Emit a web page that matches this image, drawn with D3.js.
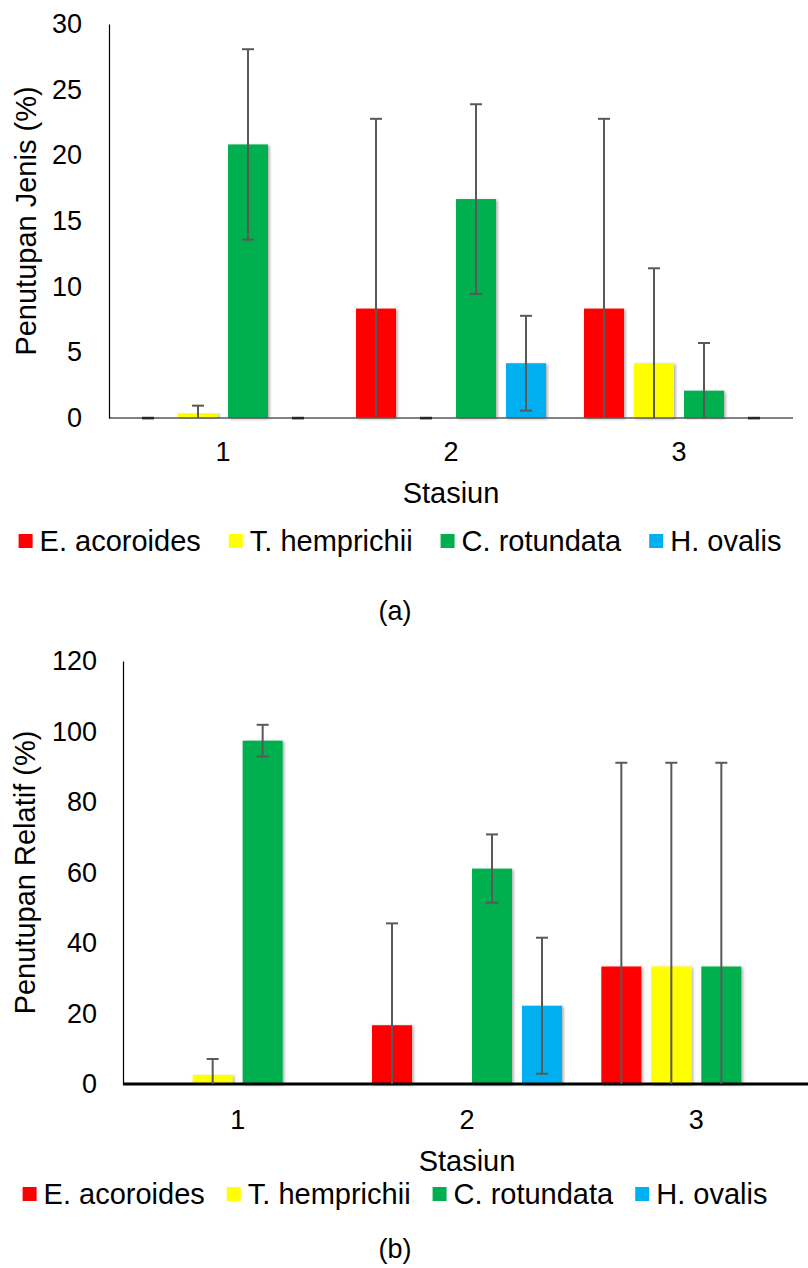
<!DOCTYPE html>
<html>
<head>
<meta charset="utf-8">
<script src="https://cdn.jsdelivr.net/npm/d3@7"></script>
<style>
  html, body { margin: 0; padding: 0; background: #fff; }
  svg { display: block; }
  text { font-family: "Liberation Sans", Arial, sans-serif; fill: #000; }
</style>
</head>
<body>
<svg id="chart" width="808" height="1268"></svg>
<script>
// ---------- DATA ----------
const stations = ["1", "2", "3"];
const species = ["E. acoroides", "T. hemprichii", "C. rotundata", "H. ovalis"];
const speciesColors = ["#FF0000", "#FFFF00", "#00B050", "#00B0F0"];

// (a) Penutupan Jenis (%)
const jenisAcoroides  = [0, 8.33, 8.33];
const jenisHemprichii = [0.36, 0, 4.17];
const jenisRotundata  = [20.83, 16.67, 2.08];
const jenisOvalis     = [0, 4.17, 0];
const jenisErrAcoroides  = [0, 14.45, 14.45];
const jenisErrHemprichii = [0.58, 0, 7.23];
const jenisErrRotundata  = [7.25, 7.22, 3.63];
const jenisErrOvalis     = [0, 3.61, 0];
const jenisTicks = [0, 5, 10, 15, 20, 25, 30];

// (b) Penutupan Relatif (%)
const relAcoroides  = [0, 16.67, 33.33];
const relHemprichii = [2.6, 0, 33.33];
const relRotundata  = [97.4, 61.1, 33.33];
const relOvalis     = [0, 22.2, 0];
const relErrAcoroides  = [0, 28.9, 57.8];
const relErrHemprichii = [4.5, 0, 57.8];
const relErrRotundata  = [4.5, 9.7, 57.8];
const relErrOvalis     = [0, 19.3, 0];
const relTicks = [0, 20, 40, 60, 80, 100, 120];

// ---------- DRAW ----------
const svg = d3.select("#chart");
const FS = 27;      // tick labels / caption
const FS_T = 29;    // titles and legend
const defs = svg.append("defs");
const f = defs.append("filter").attr("id", "shadow")
  .attr("x", "-20%").attr("y", "-5%").attr("width", "140%").attr("height", "110%");
f.append("feDropShadow").attr("dx", 1.5).attr("dy", 1).attr("stdDeviation", 1.6)
  .attr("flood-color", "#000").attr("flood-opacity", 0.35);

function drawPanel(cfg) {
  const values = cfg.values, errs = cfg.errs;
  const x = d3.scaleBand().domain(stations).range([cfg.x0, cfg.x1]).padding(0);
  const xs = d3.scaleBand().domain(species).range([-100, 100]).paddingInner(0.2).paddingOuter(0.1);
  const y = d3.scaleLinear().domain([0, cfg.ymax]).range([cfg.yBottom, cfg.yTop]);

  const g = svg.append("g");

  const rows = [];
  species.forEach((sp, si) => {
    stations.forEach((st, ti) => {
      rows.push({ sp, si, st, v: values[si][ti], e: errs[si][ti] });
    });
  });
  const nz = rows.filter(d => d.v > 0);
  g.append("g").selectAll("rect").data(nz).join("rect")
    .attr("x", d => x(d.st) + x.bandwidth() / 2 + xs(d.sp))
    .attr("width", xs.bandwidth())
    .attr("y", d => y(d.v))
    .attr("height", d => y(0) - y(d.v))
    .attr("fill", d => speciesColors[d.si])
    .attr("filter", "url(#shadow)");

  // x axis
  const xAxis = g.append("g").attr("transform", `translate(0,${cfg.yBottom})`)
    .call(d3.axisBottom(x).tickSize(0).tickPadding(cfg.xPad).tickSizeOuter(0));
  xAxis.select(".domain").attr("stroke", cfg.xAxisColor).attr("stroke-width", cfg.xAxisWidth)
    .attr("d", `M${cfg.x0},0H${cfg.xAxisEnd}`);
  xAxis.selectAll("text").attr("font-size", FS).attr("font-family", "Liberation Sans, Arial, sans-serif").attr("fill", "#000");

  // zero-value stubs (shadowed zero-height bars)
  if (cfg.stubs) {
    g.append("g").selectAll("rect").data(rows.filter(d => d.v === 0)).join("rect")
      .attr("x", d => x(d.st) + x.bandwidth() / 2 + xs(d.sp) + xs.bandwidth() / 2 - 6)
      .attr("width", 12)
      .attr("y", y(0) - 1.2)
      .attr("height", 2.6)
      .attr("fill", "#262626");
  }

  // y axis
  const yAxis = g.append("g").attr("transform", `translate(${cfg.x0},0)`)
    .call(d3.axisLeft(y).tickValues(cfg.ticks).tickSize(0).tickPadding(cfg.yPad).tickSizeOuter(0));
  yAxis.select(".domain").attr("stroke", "#000").attr("stroke-width", 1.2);
  yAxis.selectAll("text").attr("font-size", FS).attr("font-family", "Liberation Sans, Arial, sans-serif").attr("fill", "#000");

  // error bars
  const eb = nz.filter(d => d.e > 0);
  const cx = d => x(d.st) + x.bandwidth() / 2 + xs(d.sp) + xs.bandwidth() / 2;
  const eg = g.append("g").attr("stroke", "#595959").attr("stroke-width", 2);
  eg.selectAll("line.v").data(eb).join("line").attr("class", "v")
    .attr("x1", cx).attr("x2", cx)
    .attr("y1", d => y(d.v + d.e)).attr("y2", d => y(Math.max(0, d.v - d.e)));
  eg.selectAll("line.t").data(eb).join("line").attr("class", "t")
    .attr("x1", d => cx(d) - 6).attr("x2", d => cx(d) + 6)
    .attr("y1", d => y(d.v + d.e)).attr("y2", d => y(d.v + d.e));
  eg.selectAll("line.b").data(eb.filter(d => d.v - d.e > 0)).join("line").attr("class", "b")
    .attr("x1", d => cx(d) - 6).attr("x2", d => cx(d) + 6)
    .attr("y1", d => y(d.v - d.e)).attr("y2", d => y(d.v - d.e));

  // y title
  g.append("text")
    .attr("transform", `translate(${cfg.yTitleX},${(cfg.yTop + cfg.yBottom) / 2}) rotate(-90)`)
    .attr("text-anchor", "middle").attr("font-size", FS_T)
    .text(cfg.yTitle);

  // x title
  g.append("text").attr("x", (cfg.x0 + cfg.x1) / 2).attr("y", cfg.xTitleY)
    .attr("text-anchor", "middle").attr("font-size", FS_T).text("Stasiun");

  // legend
  const lg = g.append("g");
  const items = lg.selectAll("g").data(species).join("g");
  items.append("rect").attr("width", 14).attr("height", 14).attr("y", cfg.legendY - 17)
    .attr("fill", (d, i) => speciesColors[i]);
  items.append("text").attr("x", 21).attr("y", cfg.legendY).attr("font-size", FS_T).text(d => d);
  const widths = [];
  items.each(function () { widths.push(21 + d3.select(this).select("text").node().getComputedTextLength()); });
  const gap = cfg.legendGap;
  const total = d3.sum(widths) + gap * (widths.length - 1);
  let pos = cfg.legendCx - total / 2;
  items.attr("transform", (d, i) => { const p = pos; pos += widths[i] + gap; return `translate(${p},0)`; });

  // caption
  g.append("text").attr("x", cfg.capX).attr("y", cfg.capY).attr("text-anchor", "middle")
    .attr("font-size", FS).text(cfg.caption);
}

drawPanel({
  values: [jenisAcoroides, jenisHemprichii, jenisRotundata, jenisOvalis],
  errs: [jenisErrAcoroides, jenisErrHemprichii, jenisErrRotundata, jenisErrOvalis],
  ticks: jenisTicks, ymax: 30,
  x0: 109, x1: 793, xAxisEnd: 793, yTop: 24, yBottom: 418,
  xAxisColor: "#595959", xAxisWidth: 1.6, stubs: true,
  xPad: 24, yPad: 27, yTitleX: 36, yTitle: "Penutupan Jenis (%)",
  xTitleY: 503, legendY: 551, legendCx: 400, legendGap: 28,
  caption: "(a)", capX: 395, capY: 620
});

drawPanel({
  values: [relAcoroides, relHemprichii, relRotundata, relOvalis],
  errs: [relErrAcoroides, relErrHemprichii, relErrRotundata, relErrOvalis],
  ticks: relTicks, ymax: 120,
  x0: 123, x1: 811, xAxisEnd: 808, yTop: 661, yBottom: 1084,
  xAxisColor: "#000", xAxisWidth: 3.2, stubs: false,
  xPad: 26, yPad: 26, yTitleX: 35, yTitle: "Penutupan Relatif (%)",
  xTitleY: 1171, legendY: 1204, legendCx: 395, legendGap: 22,
  caption: "(b)", capX: 395, capY: 1258
});
</script>
</body>
</html>
